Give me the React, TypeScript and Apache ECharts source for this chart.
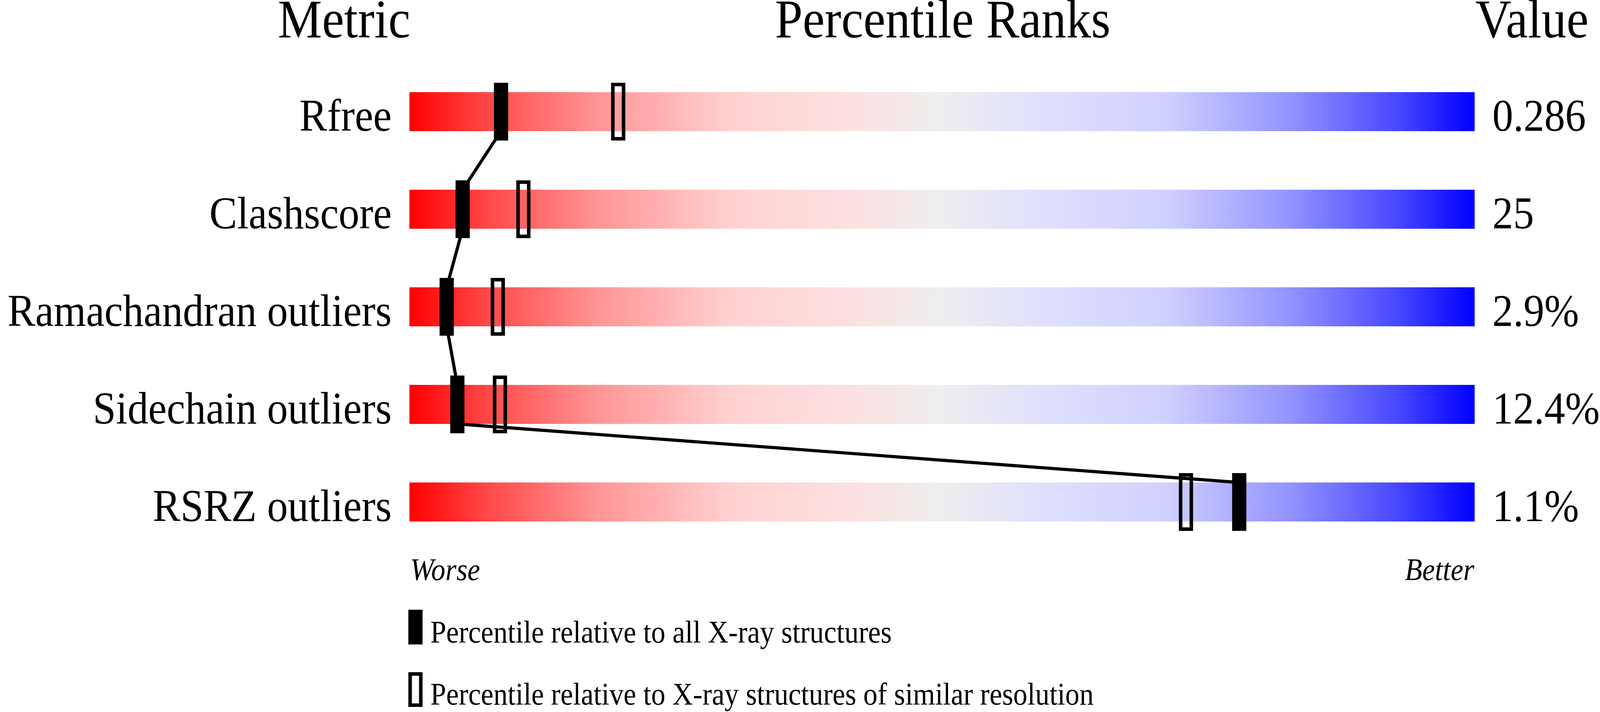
import React, { useEffect, useRef } from "react";
import * as echarts from "echarts";

const metrics = ["Rfree", "Clashscore", "Ramachandran outliers", "Sidechain outliers", "RSRZ outliers"];
const valueLabels = ["0.286", "25", "2.9%", "12.4%", "1.1%"];
const percentileAll = [8.6, 5.0, 3.5, 4.5, 77.9];
const percentileSimilar = [19.6, 10.7, 8.3, 8.5, 72.9];
const headers = ["Metric", "Percentile Ranks", "Value"];
const axisEnds = ["Worse", "Better"];
const legendLabels = [
  "Percentile relative to all X-ray structures",
  "Percentile relative to X-ray structures of similar resolution",
];

const gradientStops = [
  { offset: 0, color: "#ff0000" },
  { offset: 0.073, color: "#ff4848" },
  { offset: 0.175, color: "#ff9494" },
  { offset: 0.3, color: "#ffd0d0" },
  { offset: 0.41, color: "#fde0e0" },
  { offset: 0.5, color: "#eeeeee" },
  { offset: 0.59, color: "#e0e0fd" },
  { offset: 0.71, color: "#d0d0ff" },
  { offset: 0.825, color: "#9494ff" },
  { offset: 0.927, color: "#4848ff" },
  { offset: 1, color: "#0000ff" },
];

const SERIF = "Liberation Serif, Times New Roman, serif";
const REF_W = 4506;
const REF_H = 1824;

export default function App() {
  const ref = useRef<HTMLDivElement>(null);
  const [size, setSize] = React.useState(() => ({
    w: (typeof window !== "undefined" && window.innerWidth) || REF_W,
    h: (typeof window !== "undefined" && window.innerHeight) || REF_H,
  }));

  useEffect(() => {
    const onResize = () => setSize({ w: window.innerWidth || REF_W, h: window.innerHeight || REF_H });
    window.addEventListener("resize", onResize);
    return () => window.removeEventListener("resize", onResize);
  }, []);

  useEffect(() => {
    if (!ref.current) return;
    const chart = echarts.init(ref.current, null, { renderer: "svg" });
    const sx = size.w / REF_W;
    const sy = size.h / REF_H;
    const X = (v: number) => v * sx;
    const Y = (v: number) => v * sy;
    const textScaleX = sx / sy;
    const avg = (sx + sy) / 2;
    // y of the "middle" anchor so that the alphabetic baseline lands at `base`
    const mid = (base: number, font: number) => base - 0.3375 * font;

    const labelFont = Y(117);
    const headFont = Y(140);
    const smallFont = Y(80);

    const textEl = (t: string, x: number, base: number, font: number, align: string, italic = false) => ({
      type: "text",
      x,
      y: mid(base, font),
      scaleX: textScaleX,
      silent: true,
      style: {
        text: t,
        fill: "#000",
        fontFamily: SERIF,
        fontSize: font,
        fontStyle: italic ? "italic" : "normal",
        align,
        verticalAlign: "middle",
      },
    });

    const barItem = (params: any, api: any) => {
      const i = params.dataIndex;
      const left = api.coord([0, i]);
      const right = api.coord([100, i]);
      const rowH = api.size([0, 1])[1];
      const h = rowH * 0.4;
      const base = left[1] + 0.196 * rowH;
      return {
        type: "group",
        children: [
          {
            type: "rect",
            shape: { x: left[0], y: left[1] - h / 2, width: right[0] - left[0], height: h },
            style: { fill: new echarts.graphic.LinearGradient(0, 0, 1, 0, gradientStops) },
          },
          textEl(metrics[i], left[0] - X(50), base, labelFont, "right"),
          textEl(valueLabels[i], right[0] + X(50), base, labelFont, "left"),
        ],
      };
    };

    const markerItem = (filled: boolean) => (params: any, api: any) => {
      const c = api.coord([api.value(0), api.value(1)]);
      const rowH = api.size([0, 1])[1];
      const w = X(40);
      const h = rowH * 0.592;
      if (filled) {
        return {
          type: "rect",
          shape: { x: c[0] - w / 2, y: c[1] - h / 2, width: w, height: h },
          style: { fill: "#000" },
        };
      }
      const lw = 9.5 * avg;
      return {
        type: "rect",
        shape: { x: c[0] - w / 2 + lw / 2, y: c[1] - h / 2 + lw / 2, width: w - lw, height: h - lw },
        style: { fill: "none", stroke: "#000", lineWidth: lw },
      };
    };

    const lineData: number[][] = [];
    percentileAll.forEach((p, i) => {
      lineData.push([p, i - 0.2]);
      lineData.push([p, i + 0.2]);
    });

    const lw = 9.5 * avg;
    const legX = X(1150);
    const legW = X(40);
    const legH = Y(89);
    const legY1 = Y(1562);
    const legY2 = Y(1722);

    chart.setOption({
      animation: false,
      grid: { left: X(1153), width: X(3000), top: Y(161), height: Y(1250) },
      xAxis: { type: "value", min: 0, max: 100, show: false },
      yAxis: { type: "value", min: -0.5, max: 4.5, inverse: true, show: false },
      series: [
        {
          type: "custom",
          z: 1,
          silent: true,
          renderItem: barItem,
          data: metrics.map((_, i) => [0, i]),
        },
        {
          type: "line",
          z: 2,
          silent: true,
          symbol: "none",
          lineStyle: { color: "#000", width: 8.5 * avg },
          data: lineData,
        },
        {
          type: "custom",
          z: 3,
          silent: true,
          renderItem: markerItem(false),
          data: percentileSimilar.map((p, i) => [p, i]),
        },
        {
          type: "custom",
          z: 4,
          silent: true,
          renderItem: markerItem(true),
          data: percentileAll.map((p, i) => [p, i]),
        },
      ],
      graphic: [
        textEl(headers[0], X(969), Y(96), headFont, "center"),
        textEl(headers[1], X(2655), Y(96), headFont, "center"),
        textEl(headers[2], X(4155), Y(96), headFont, "left"),
        textEl(axisEnds[0], X(1155), Y(1486), smallFont, "left", true),
        textEl(axisEnds[1], X(4152), Y(1486), smallFont, "right", true),
        {
          type: "rect",
          shape: { x: legX, y: legY1, width: legW, height: legH },
          style: { fill: "#000" },
        },
        {
          type: "rect",
          shape: { x: legX + lw / 2, y: legY2 + lw / 2, width: legW - lw, height: legH - lw },
          style: { fill: "none", stroke: "#000", lineWidth: lw },
        },
        textEl(legendLabels[0], X(1212), Y(1646), smallFont, "left"),
        textEl(legendLabels[1], X(1212), Y(1805), smallFont, "left"),
      ],
    });
    return () => chart.dispose();
  }, [size]);

  return (
    <div
      ref={ref}
      style={{ position: "absolute", left: 0, top: 0, width: size.w, height: size.h, background: "#fff" }}
    />
  );
}
